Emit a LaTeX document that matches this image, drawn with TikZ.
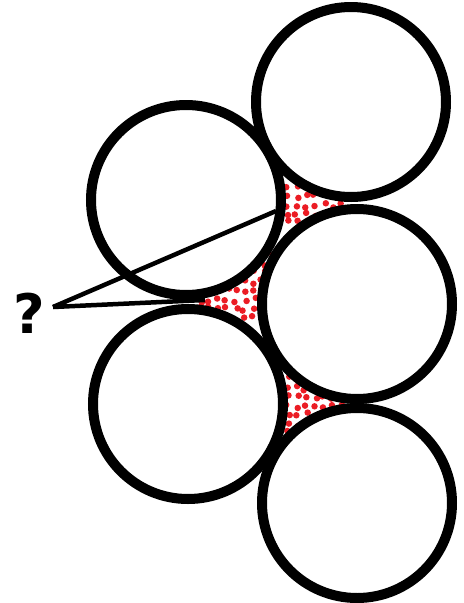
\documentclass[tikz,border=0pt]{standalone}
\usepackage{fontspec}
\setmainfont{Liberation Sans}
\newfontfamily\heavyfont{DejaVu Sans}
\definecolor{dotred}{RGB}{235,28,36}
\tikzset{
  ball/.style={circle,draw=black,line width=0.2cm,minimum size=3.8cm,inner sep=0pt},
  grain/.style={fill=dotred},
  pointer/.style={draw=black,line width=0.09cm},
  qmark/.style={font=\heavyfont\fontsize{31}{31}\selectfont\bfseries,inner sep=0pt}
}

\begin{document}
\begin{tikzpicture}
  \useasboundingbox (0,0) rectangle (9.28,-12.06);
  % centres of the grains
  \coordinate (p1) at (7.02,-2.04);
  \coordinate (p2) at (3.72,-4.00);
  \coordinate (p3) at (7.14,-6.08);
  \coordinate (p4) at (3.76,-8.08);
  \coordinate (p5) at (7.14,-10.06);

  % red filling of the pores
  \pgfmathsetseed{42}
  \begin{scope}
    \clip (p1) -- (p2) -- (p3) -- cycle;
    \foreach \x in {5.4,5.58,...,6.9}
      \foreach \y in {-3.2,-3.38,...,-4.6}
        \fill[grain] (\x+0.05*rand,\y+0.05*rand) circle (0.065);
  \end{scope}
  \begin{scope}
    \clip (p2) -- (p3) -- (p4) -- cycle;
    \foreach \x in {4.0,4.18,...,5.5}
      \foreach \y in {-5.1,-5.28,...,-6.5}
        \fill[grain] (\x+0.05*rand,\y+0.05*rand) circle (0.065);
  \end{scope}
  \begin{scope}
    \clip (p3) -- (p4) -- (p5) -- cycle;
    \foreach \x in {5.4,5.58,...,7.0}
      \foreach \y in {-7.4,-7.58,...,-8.8}
        \fill[grain] (\x+0.05*rand,\y+0.05*rand) circle (0.065);
  \end{scope}

  \foreach \p in {p1,p2,p3,p4,p5}
    \fill[white] (\p) circle (1.9);

  \node[ball] (c1) at (p1) {};
  \node[ball] (c2) at (p2) {};
  \node[ball] (c3) at (p3) {};
  \node[ball] (c4) at (p4) {};
  \node[ball] (c5) at (p5) {};

  \node[qmark] (q) at (0.58,-6.26) {?};
  \coordinate (qtip) at (1.06,-6.14);
  \coordinate (aim1) at (5.52,-4.22);
  \coordinate (aim2) at (4.10,-6.00);
  \draw[pointer] (qtip) -- (aim1);
  \draw[pointer] (qtip) -- (aim2);
\end{tikzpicture}
\end{document}
